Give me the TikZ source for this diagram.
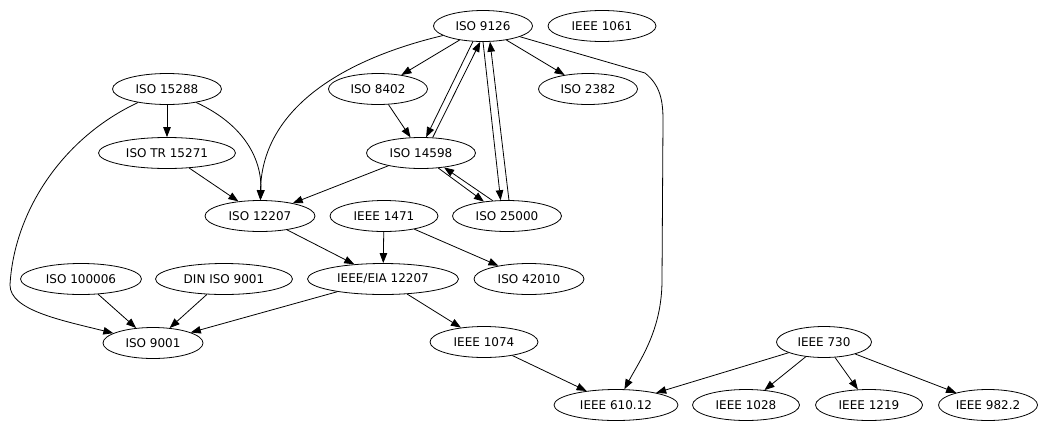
\documentclass[tikz,border=0pt]{standalone}
\usepackage{fontspec}
\setmainfont{DejaVu Sans}
\usetikzlibrary{shapes.geometric,arrows.meta}
\begin{document}
\begin{tikzpicture}[x=1pt,y=-1pt,
  nd/.style={draw,ellipse,inner sep=0pt,minimum height=31pt,font=\fontsize{12}{14}\selectfont,line width=0.8pt},
  ar/.style={-{Triangle[length=10pt,width=7.5pt]},line width=0.8pt}]
\useasboundingbox (0,0) rectangle (1040,421);
% nodes
\node[nd,minimum width=99pt]  (n9126)   at (483,26)  {ISO 9126};
\node[nd,minimum width=108pt] (n1061)   at (602,26)  {IEEE 1061};
\node[nd,minimum width=99pt]  (n8402)   at (378,89)  {ISO 8402};
\node[nd,minimum width=99pt]  (n2382)   at (588,89)  {ISO 2382};
\node[nd,minimum width=109pt] (n14598)  at (421,153) {ISO 14598};
\node[nd,minimum width=109pt] (n25000)  at (507,216) {ISO 25000};
\node[nd,minimum width=108pt] (n1471)   at (384,216) {IEEE 1471};
\node[nd,minimum width=109pt] (n15288)  at (167,89)  {ISO 15288};
\node[nd,minimum width=137pt] (ntr)     at (167,153) {ISO TR 15271};
\node[nd,minimum width=110pt] (n12207)  at (260,216) {ISO 12207};
\node[nd,minimum width=121pt] (n100006) at (81,279)  {ISO 100006};
\node[nd,minimum width=137pt] (ndin)    at (224,279) {DIN ISO 9001};
\node[nd,minimum width=100pt] (n9001)   at (153,343) {ISO 9001};
\node[nd,minimum width=151pt] (neia)    at (383,279) {IEEE/EIA 12207};
\node[nd,minimum width=110pt] (n42010)  at (529,279) {ISO 42010};
\node[nd,minimum width=108pt] (n1074)   at (484,342) {IEEE 1074};
\node[nd,minimum width=95pt]  (n730)    at (824,342) {IEEE 730};
\node[nd,minimum width=124pt] (n61012)  at (616,405) {IEEE 610.12};
\node[nd,minimum width=107pt] (n1028)   at (746,405) {IEEE 1028};
\node[nd,minimum width=107pt] (n1219)   at (869,405) {IEEE 1219};
\node[nd,minimum width=99pt]  (n9822)   at (988,405) {IEEE 982.2};
% straight edges
\draw[ar] (n9126) -- (n8402);
\draw[ar] (n9126) -- (n2382);
\draw[ar] (n8402) -- (n14598);
\draw[ar] (n14598) -- (n12207);
\draw[ar] (n15288) -- (ntr);
\draw[ar] (ntr) -- (n12207);
\draw[ar] (n12207) -- (neia);
\draw[ar] (n1471) -- (neia);
\draw[ar] (n1471) -- (n42010);
\draw[ar] (n100006) -- (n9001);
\draw[ar] (ndin) -- (n9001);
\draw[ar] (neia) -- (n9001);
\draw[ar] (neia) -- (n1074);
\draw[ar] (n1074) -- (n61012);
\draw[ar] (n730) -- (n61012);
\draw[ar] (n730) -- (n1028);
\draw[ar] (n730) -- (n1219);
\draw[ar] (n730) -- (n9822);
% paired edges
\draw[ar] (n9126.-123) -- (n14598.72);
\draw[ar] (n14598.53) -- (n9126.-100);
\draw[ar] (n9126.-90) -- (n25000.112);
\draw[ar] (n25000.83) -- (n9126.-66);
\draw[ar] (n14598.-41) -- (n25000.148);
\draw[ar] (n25000.133) -- (n14598.-32);
% curved edges
\draw[ar] (n9126) .. controls (340,60) and (262,110) .. (n12207);
\draw[ar] (n15288) .. controls (245,125) and (262,160) .. (n12207);
\draw[ar] (n15288) .. controls (62,138) and (14,212) .. (10,285)
          .. controls (10,310) and (60,320) .. (n9001);
\draw[ar] (n9126) -- (645,73) .. controls (660,85) and (663,100) .. (663,120)
          -- (662,280) .. controls (662,330) and (640,360) .. (n61012);
\end{tikzpicture}
\end{document}
